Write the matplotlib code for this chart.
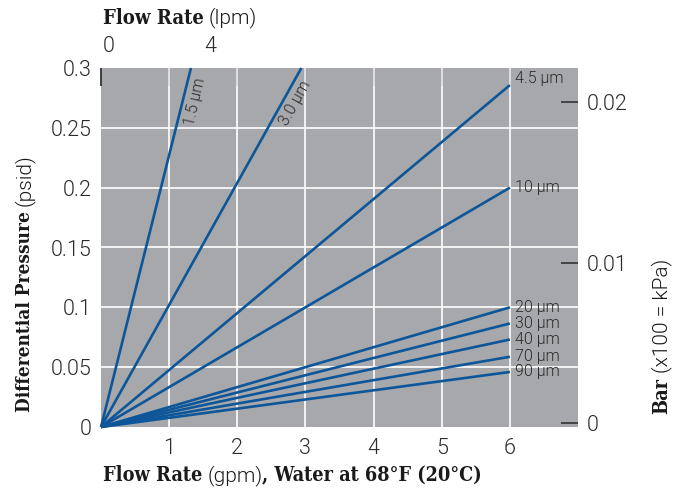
import matplotlib
matplotlib.use("Agg")
import matplotlib.pyplot as plt
import matplotlib.transforms as mtrans

# ---- data ----
series_labels = ["1.5 µm", "3.0 µm", "4.5 µm", "10 µm", "20 µm", "30 µm", "40 µm", "70 µm", "90 µm"]
x_end = [1.32, 2.94, 6, 6, 6, 6, 6, 6, 6]            # gpm at line end
y_end = [0.30, 0.30, 0.2857, 0.20, 0.100, 0.0865, 0.0731, 0.0587, 0.0460]  # psid at line end
x_ticks = [1, 2, 3, 4, 5, 6]
y_ticks = [0, 0.05, 0.10, 0.15, 0.20, 0.25, 0.30]
y_tick_labels = ["0", "0.05", "0.1", "0.15", "0.2", "0.25", "0.3"]
top_ticks = [0, 1, 2, 3, 4, 5, 6]
lpm_labels = ["0", "4"]
lpm_label_pos = [0.12, 1.60]
bar_labels = ["0", "0.01", "0.02"]
bar_pos_psi = [0.0033, 0.1373, 0.2718]

W, H = 684, 490
BG = "#a7a8ab"
BLUE = "#0d5699"
TXT = "#2b2b2b"
SANS = "Roboto"
SANS_W = 300
SERIF = "DejaVu Serif"

fig = plt.figure(figsize=(W / 100, H / 100), dpi=100)
ax = fig.add_axes([101 / W, 1 - 427 / H, (578 - 101) / W, (427 - 68) / H])
ax.set_facecolor(BG)
ax.set_xlim(0, 7)
ax.set_ylim(0, 0.3)
for s in ax.spines.values():
    s.set_visible(False)

ax.set_xticks(x_ticks)
ax.set_xticklabels([str(v) for v in x_ticks])
ax.set_yticks(y_ticks)
ax.set_yticklabels(y_tick_labels)
ax.tick_params(axis="both", length=0, labelsize=15.5, labelcolor=TXT)
ax.tick_params(axis="x", pad=8)
ax.tick_params(axis="y", pad=7)
for lab in ax.get_xticklabels() + ax.get_yticklabels():
    lab.set_family(SANS)
    lab.set_weight(SANS_W)
ax.grid(True, color="white", linewidth=1.2)
ax.set_axisbelow(True)
yt = ax.yaxis.get_major_ticks()
yt[0].gridline.set_visible(False)
yt[-1].gridline.set_visible(False)

# lines
for lab, xe, ye in zip(series_labels, x_end, y_end):
    ax.plot([0, xe], [0, ye], color=BLUE, linewidth=1.9, solid_capstyle="butt", zorder=3, clip_on=False)

# end labels
for lab, xe, ye in zip(series_labels[2:], x_end[2:], y_end[2:]):
    dy = 4.5 if lab == "4.5 µm" else 0
    ax.annotate(lab, (xe, ye), xytext=(4, dy), textcoords="offset points",
                ha="left", va="center", fontsize=11.5, color=TXT, family=SANS, weight=SANS_W)

# rotated labels
ax.text(1.38, 0.2715, series_labels[0], rotation=77, rotation_mode="anchor",
        ha="center", va="center", fontsize=11.5, color=TXT, family=SANS, weight=SANS_W)
ax.text(2.85, 0.271, series_labels[1], rotation=61, rotation_mode="anchor",
        ha="center", va="center", fontsize=11.5, color=TXT, family=SANS, weight=SANS_W)

# top ticks
top = ax.secondary_xaxis("top")
top.set_xticks(top_ticks)
top.set_xticklabels([])
top.tick_params(direction="in", length=13, width=1.3, color="#333333")
for s in top.spines.values():
    s.set_visible(False)

# right ticks (bar)
right = ax.secondary_yaxis("right")
right.set_yticks(bar_pos_psi)
right.set_yticklabels(bar_labels)
right.tick_params(direction="in", length=12, width=1.2, color="#333333",
                  labelsize=15.5, labelcolor=TXT, pad=6)
for lab in right.get_yticklabels():
    lab.set_family(SANS)
    lab.set_weight(SANS_W)
for s in right.spines.values():
    s.set_visible(False)

# lpm labels on top
trans = mtrans.blended_transform_factory(ax.transData, fig.transFigure)
for lab, p in zip(lpm_labels, lpm_label_pos):
    fig.text(p, 1 - 47 / H, lab, transform=trans, ha="center", va="center",
             fontsize=15.5, color=TXT, family=SANS, weight=SANS_W)

# mixed-font labels
renderer = fig.canvas.get_renderer()


def mixed(x, y, parts, vertical=False):
    off = 0.0
    for s, fam, wt, size, gap in parts:
        off += gap
        kw = dict(family=fam, weight=wt, fontsize=size, color="#1a1a1a")
        if fam == SERIF:
            kw["stretch"] = "condensed"
        if vertical:
            t = fig.text(x / W, (y + off) / H, s, ha="left", va="baseline", rotation=90,
                         rotation_mode="anchor", **kw)
            off += t.get_window_extent(renderer).height
        else:
            t = fig.text((x + off) / W, y / H, s, ha="left", va="baseline", **kw)
            off += t.get_window_extent(renderer).width


SB = 14.2
SS = 15
mixed(103, H - 23.5, [("Flow Rate", SERIF, "bold", 14.5, 0), ("(lpm)", SANS, SANS_W, SS, 5)])
mixed(103, H - 481, [("Flow Rate", SERIF, "bold", SB, 0), ("(gpm)", SANS, SANS_W, SS, 5),
                     (", Water at 68°F (20°C)", SERIF, "bold", SB, 0)])
mixed(30, H - 412, [("Differential Pressure", SERIF, "bold", 13.6, 0), ("(psid)", SANS, SANS_W, SS, 5)], vertical=True)
mixed(667, H - 414, [("Bar", SERIF, "bold", SB, 0), ("(x100 = kPa)", SANS, SANS_W, SS, 5)], vertical=True)

fig.savefig("out.png", dpi=100)
